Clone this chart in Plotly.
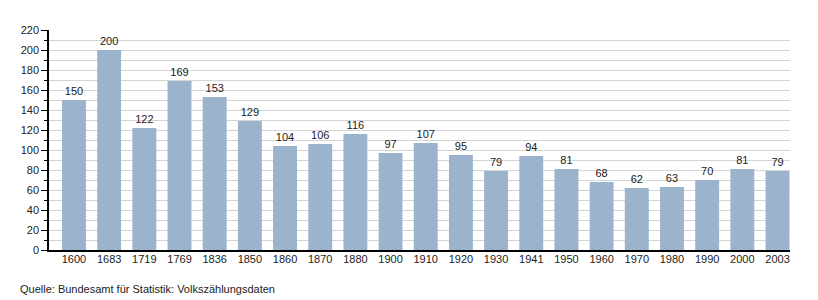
import plotly.graph_objects as go

years = ["1600","1683","1719","1769","1836","1850","1860","1870","1880","1900",
         "1910","1920","1930","1941","1950","1960","1970","1980","1990","2000","2003"]
values = [150,200,122,169,153,129,104,106,116,97,107,95,79,94,81,68,62,63,70,81,79]
yticks = list(range(0, 221, 20))

x = list(range(len(years)))
fig = go.Figure(go.Bar(
    x=x, y=values, width=0.68,
    marker=dict(color="#9bb3cd", line=dict(width=0)),
    text=[str(v) for v in values], textposition="outside",
    textfont=dict(family="Liberation Sans, Arial", size=11, color="#222"),
    cliponaxis=False,
))
fig.update_layout(
    width=818, height=300,
    margin=dict(l=49, r=28, t=30, b=50),
    paper_bgcolor="white", plot_bgcolor="white",
    font=dict(family="Liberation Sans, Arial", size=11, color="#222"),
    showlegend=False, bargap=0.32,
    annotations=[dict(text="Quelle: Bundesamt für Statistik: Volkszählungsdaten",
                      xref="paper", yref="paper", x=-31/741, y=-39/220,
                      xanchor="left", yanchor="middle", showarrow=False,
                      font=dict(size=11, color="#222"))],
)
fig.update_xaxes(range=[-0.71, 20.355], tickvals=x, ticktext=years,
                 showline=True, linecolor="black", linewidth=1.5,
                 ticks="", showgrid=False, zeroline=False, ticklabelstandoff=-2)
fig.update_yaxes(range=[0, 220], tickvals=yticks, showline=True, linecolor="black",
                 linewidth=1.5, ticks="outside", ticklen=6, tickcolor="black",
                 showgrid=True, gridcolor="#d4d4d4", gridwidth=1, zeroline=False,
                 minor=dict(dtick=10, tick0=0, ticks="outside", ticklen=3, tickcolor="black",
                            showgrid=True, gridcolor="#d4d4d4", gridwidth=1))
fig.write_html("out.html")
